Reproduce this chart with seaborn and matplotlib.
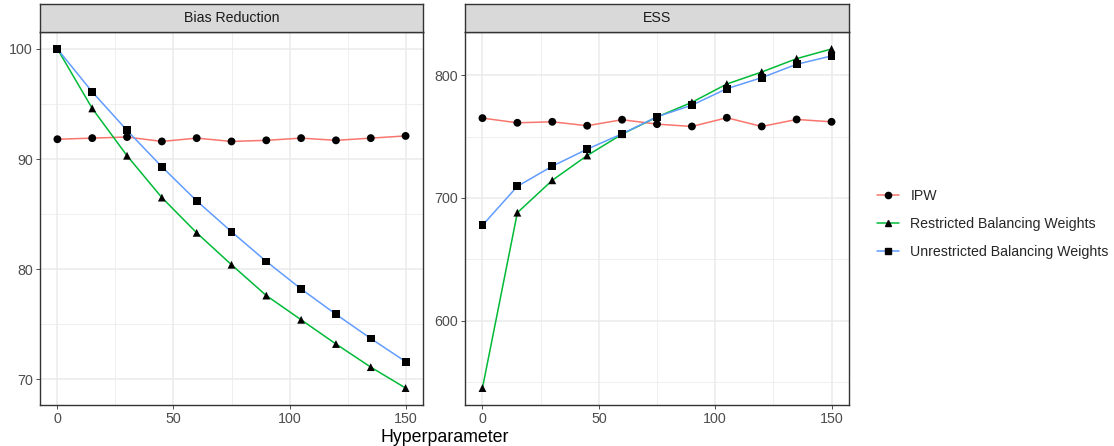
import numpy as np
import pandas as pd
import matplotlib
matplotlib.use("Agg")
import matplotlib.pyplot as plt
import seaborn as sns
from matplotlib.lines import Line2D

# ---- data ----
hyper = [0, 15, 30, 45, 60, 75, 90, 105, 120, 135, 150]
methods = ["IPW", "Restricted Balancing Weights", "Unrestricted Balancing Weights"]

bias_ipw = [91.8, 91.9, 92.0, 91.6, 91.9, 91.6, 91.7, 91.9, 91.7, 91.9, 92.1]
bias_restricted = [100.0, 94.6, 90.3, 86.5, 83.3, 80.4, 77.6, 75.4, 73.2, 71.1, 69.2]
bias_unrestricted = [100.0, 96.1, 92.6, 89.3, 86.2, 83.4, 80.7, 78.2, 75.9, 73.7, 71.6]

ess_ipw = [765.1, 761.3, 762.1, 758.9, 763.8, 760.2, 758.3, 765.4, 758.3, 764.0, 762.1]
ess_restricted = [545.0, 688.0, 714.4, 734.6, 752.0, 766.0, 778.0, 792.9, 802.7, 813.6, 821.5]
ess_unrestricted = [677.7, 709.5, 725.9, 739.8, 752.3, 766.2, 775.7, 789.1, 798.1, 809.0, 815.8]

palette = {"IPW": "#F8766D",
           "Restricted Balancing Weights": "#00BA38",
           "Unrestricted Balancing Weights": "#619CFF"}
marker_map = {"IPW": "o",
              "Restricted Balancing Weights": "^",
              "Unrestricted Balancing Weights": "s"}


def long_frame(ipw, restricted, unrestricted):
    parts = []
    for name, vals in zip(methods, [ipw, restricted, unrestricted]):
        parts.append(pd.DataFrame({"Hyperparameter": hyper, "value": vals, "method": name}))
    return pd.concat(parts, ignore_index=True)


bias_df = long_frame(bias_ipw, bias_restricted, bias_unrestricted)
ess_df = long_frame(ess_ipw, ess_restricted, ess_unrestricted)

sns.set_theme(style="white")
plt.rcParams["font.family"] = ["Liberation Sans", "DejaVu Sans"]

W, H = 1114, 446
fig = plt.figure(figsize=(W / 100, H / 100), dpi=100)


def px_axes(x0, y0, x1, y1):
    return fig.add_axes([x0 / W, 1 - y1 / H, (x1 - x0) / W, (y1 - y0) / H])


def draw_panel(x0, x1, df, title, yticks, yminor):
    ax = px_axes(x0, 32, x1, 405)
    strip = px_axes(x0, 4, x1, 32)

    sns.lineplot(data=df, x="Hyperparameter", y="value", hue="method",
                 palette=palette, linewidth=1.1, legend=False, ax=ax, zorder=3)
    sns.scatterplot(data=df, x="Hyperparameter", y="value", style="method",
                    markers=marker_map, color="black", s=32, edgecolor="none",
                    legend=False, ax=ax, zorder=4)

    lo, hi = min(df["value"]), max(df["value"])
    pad = (hi - lo) * 0.05
    ax.set_ylim(lo - pad, hi + pad)
    ax.set_xlim(-7.5, 157.5)
    ax.set_xticks([0, 50, 100, 150])
    ax.set_yticks(yticks)
    ax.set_xticks([25, 75, 125], minor=True)
    ax.set_yticks(yminor, minor=True)
    ax.grid(True, which="major", color="#EBEBEB", linewidth=1.1, zorder=0)
    ax.grid(True, which="minor", color="#EBEBEB", linewidth=0.55, zorder=0)
    ax.set_axisbelow(True)
    ax.set_xlabel("")
    ax.set_ylabel("")
    ax.tick_params(which="major", direction="out", length=3, width=0.6,
                   color="#333333", labelcolor="#4D4D4D", labelsize=10.3, pad=2,
                   bottom=True, left=True)
    ax.tick_params(which="minor", length=0)
    for sp in ax.spines.values():
        sp.set_color("#333333")
        sp.set_linewidth(1.0)

    strip.set_facecolor("#D9D9D9")
    strip.set_xticks([])
    strip.set_yticks([])
    for sp in strip.spines.values():
        sp.set_color("#333333")
        sp.set_linewidth(1.0)
    strip.text(0.5, 0.5, title, ha="center", va="center", fontsize=10.2,
               color="#1A1A1A", transform=strip.transAxes)
    return ax


draw_panel(40, 423, bias_df, "Bias Reduction", [70, 80, 90, 100], [75, 85, 95])
draw_panel(465, 849, ess_df, "ESS", [600, 700, 800], [550, 650, 750])

fig.text(445 / W, 1 - 437 / H, "Hyperparameter", ha="center", va="center",
         fontsize=12.8, color="black")

handles = [Line2D([0], [0], color=palette[m], linewidth=1.1, marker=marker_map[m],
                  markerfacecolor="black", markeredgecolor="black", markersize=4.5)
           for m in methods]
fig.legend(handles, methods, loc="center left", bbox_to_anchor=(871 / W, 1 - 224 / H),
           frameon=False, fontsize=10.2, handlelength=1.6, labelspacing=0.98,
           handletextpad=0.78, borderaxespad=0)

fig.savefig("out.png", dpi=100)
